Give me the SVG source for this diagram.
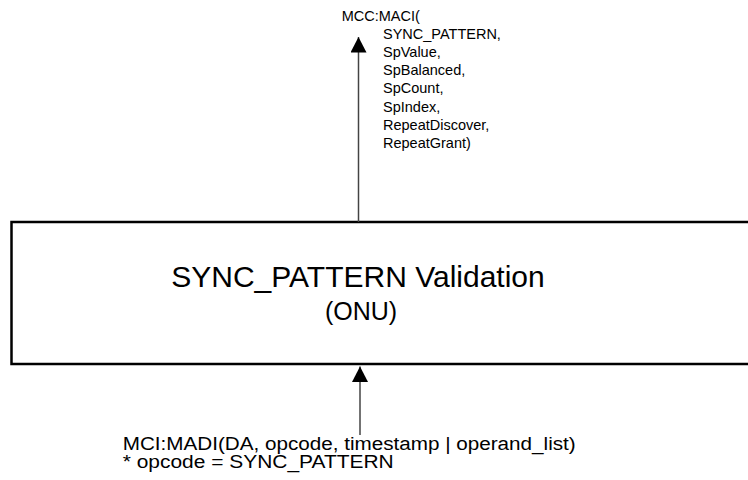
<svg xmlns="http://www.w3.org/2000/svg" width="748" height="480" viewBox="0 0 748 480">
<defs>
<style>
.t{font-family:"Liberation Sans",Arial,sans-serif;fill:#000}
.s{font-size:14.5px}
.b{font-size:18px}
.conn{stroke:#444;stroke-width:1.5;fill:none}
</style>
<marker id="ah" markerWidth="17" markerHeight="17" refX="15.5" refY="8" orient="auto" markerUnits="userSpaceOnUse">
<path d="M0,0 L15.5,8 L0,16 Z" fill="#000"/>
</marker>
</defs>
<rect width="748" height="480" fill="#fff"/>
<g id="validation">
<rect x="11.5" y="222" width="760" height="142" fill="#fff" stroke="#000" stroke-width="2.5"/>
<text class="t" x="358" y="286.5" font-size="30" text-anchor="middle">SYNC_PATTERN Validation</text>
<text class="t" x="361" y="319.5" font-size="25" text-anchor="middle">(ONU)</text>
</g>
<g id="connectors">
<line class="conn" x1="358.5" y1="222" x2="358.5" y2="37" marker-end="url(#ah)"/>
<line class="conn" x1="360" y1="435" x2="360" y2="366.5" marker-end="url(#ah)"/>
</g>
<g id="label-top">
<text class="t s" x="341.7" y="20.5">MCC:MACI(</text>
<text class="t s" x="383" y="38.5">SYNC_PATTERN,</text>
<text class="t s" x="383" y="56.8">SpValue,</text>
<text class="t s" x="383" y="75.1">SpBalanced,</text>
<text class="t s" x="383" y="93.4">SpCount,</text>
<text class="t s" x="383" y="111.7">SpIndex,</text>
<text class="t s" x="383" y="130">RepeatDiscover,</text>
<text class="t s" x="383" y="148.3">RepeatGrant)</text>
</g>
<g id="label-bottom">
<text class="t b" x="122.7" y="450" textLength="453" lengthAdjust="spacingAndGlyphs">MCI:MADI(DA, opcode, timestamp | operand_list)</text>
<text class="t b" x="122.7" y="468" textLength="271" lengthAdjust="spacingAndGlyphs">* opcode = SYNC_PATTERN</text>
</g>
</svg>
